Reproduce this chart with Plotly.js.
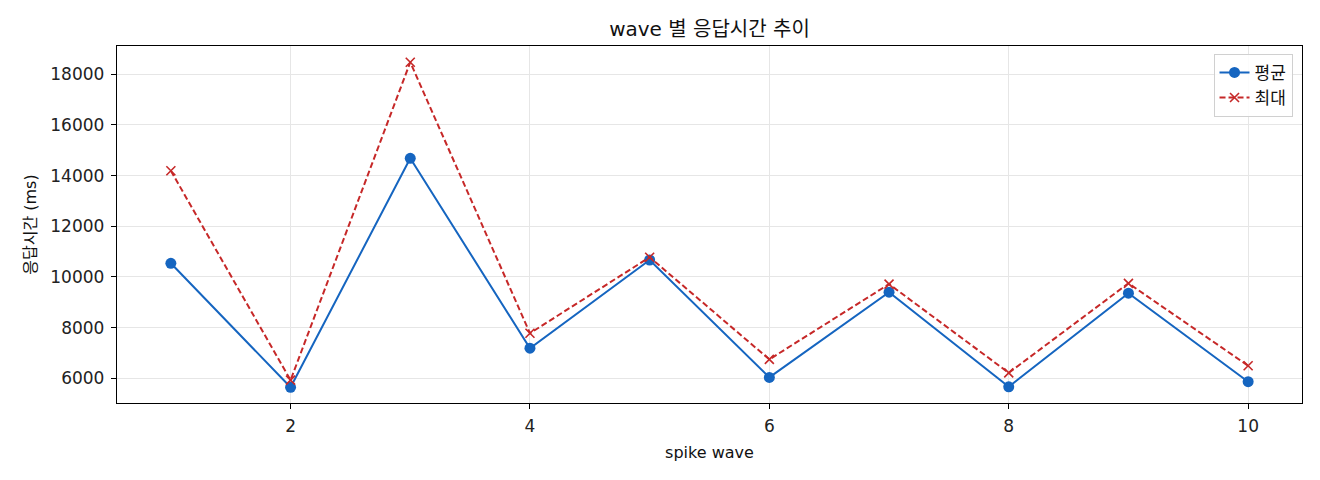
<!DOCTYPE html>
<html>
<head>
<meta charset="utf-8">
<script src="https://cdn.plot.ly/plotly-3.0.1.min.js"></script>
<style>
  html, body { margin: 0; padding: 0; background: #fff; }
  #chart { width: 1320px; height: 480px; }
</style>
</head>
<body>
<div id="chart"></div>
<script>
// spike wave 번호
const waves = [1, 2, 3, 4, 5, 6, 7, 8, 9, 10];
// 평균 / 최대 응답시간 (ms)
const avgMs = [10540, 5650, 14680, 7190, 10670, 6040, 9400, 5670, 9360, 5870];
const maxMs = [14190, 5930, 18470, 7780, 10780, 6750, 9720, 6220, 9750, 6500];
const xTicks = [2, 4, 6, 8, 10];
const yTicks = [6000, 8000, 10000, 12000, 14000, 16000, 18000];

const BLUE = '#1565c0';
const RED = '#c62828';
const FONT = '"DejaVu Sans", "Noto Sans CJK KR", sans-serif';

const traces = [
    {
        x: waves, y: avgMs, name: '평균',
        type: 'scatter', mode: 'lines+markers',
        line: { color: BLUE, width: 2 },
        marker: { color: BLUE, size: 11, symbol: 'circle' },
    },
    {
        x: waves, y: maxMs, name: '최대',
        type: 'scatter', mode: 'lines+markers',
        line: { color: RED, width: 2, dash: '6px,3px' },
        marker: { color: RED, size: 9, symbol: 'x-thin', line: { color: RED, width: 1.6 } },
    },
];

const axisCommon = {
    showline: true, mirror: true, linecolor: '#000', linewidth: 1.2,
    ticks: 'outside', ticklen: 5, tickcolor: '#000', tickwidth: 1,
    showgrid: true, gridcolor: '#e6e6e6', gridwidth: 1,
    zeroline: false,
    tickfont: { family: FONT, size: 17, color: '#222' },
};

const layout = {
    width: 1320, height: 480,
    paper_bgcolor: '#fff', plot_bgcolor: '#fff',
    font: { family: FONT, color: '#111' },
    margin: { t: 46, r: 18, b: 77, l: 117 },
    title: {
        text: 'wave 별 응답시간 추이',
        font: { family: FONT, size: 20, color: '#111' },
        x: 0.5375, xanchor: 'center', y: 0.94, yanchor: 'middle',
    },
    xaxis: Object.assign({}, axisCommon, {
        range: [0.55, 10.45],
        tickvals: xTicks,
        ticklabelstandoff: 2,
        title: { text: 'spike wave', font: { family: FONT, size: 16, color: '#111' }, standoff: 12 },
    }),
    yaxis: Object.assign({}, axisCommon, {
        range: [5030, 19110],
        tickvals: yTicks,
        ticktext: yTicks.map(String),
        ticklabelstandoff: 3,
        title: { text: '응답시간 (ms)', font: { family: FONT, size: 16, color: '#111' }, standoff: 9 },
    }),
    legend: {
        x: 0.992, xanchor: 'right', y: 0.978, yanchor: 'top',
        bgcolor: 'rgba(255,255,255,0.85)', bordercolor: '#d0d0d0', borderwidth: 1,
        font: { family: FONT, size: 17, color: '#111' },
    },
    showlegend: true,
};

Plotly.newPlot('chart', traces, layout, { displayModeBar: false, staticPlot: true });
</script>
</body>
</html>
